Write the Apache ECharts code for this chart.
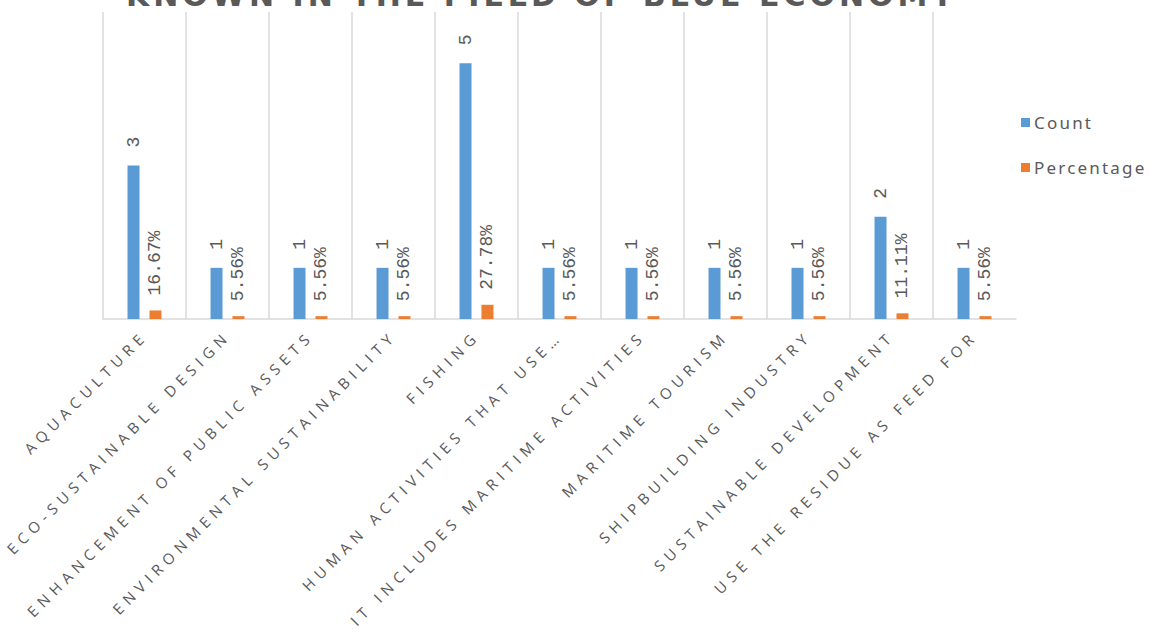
<!DOCTYPE html>
<html>
<head>
<meta charset="utf-8">
<script src="https://cdn.jsdelivr.net/npm/echarts@6/dist/echarts.min.js"></script>
<style>
html,body{margin:0;padding:0;background:#fff}
#c{width:1149px;height:632px}
#c text[style*="Open Sans"]{letter-spacing:5.5px}
#c text[style*="DejaVu Sans"]{letter-spacing:4px}
#c text[style*="Noto Sans"]{letter-spacing:2.2px}
</style>
</head>
<body>
<div id="c"></div>
<script>
const titleText = 'KNOWN IN THE FIELD OF BLUE ECONOMY';
const categories = [
  'AQUACULTURE',
  'ECO-SUSTAINABLE DESIGN',
  'ENHANCEMENT OF PUBLIC ASSETS',
  'ENVIRONMENTAL SUSTAINABILITY',
  'FISHING',
  'HUMAN ACTIVITIES THAT USE…',
  'IT INCLUDES MARITIME ACTIVITIES',
  'MARITIME TOURISM',
  'SHIPBUILDING INDUSTRY',
  'SUSTAINABLE DEVELOPMENT',
  'USE THE RESIDUE AS FEED FOR'
];
const countValues = [3, 1, 1, 1, 5, 1, 1, 1, 1, 2, 1];
const percentageValues = [0.1667, 0.0556, 0.0556, 0.0556, 0.2778, 0.0556, 0.0556, 0.0556, 0.0556, 0.1111, 0.0556];

const chart = echarts.init(document.getElementById('c'), null, { renderer: 'svg' });
const grey = '#595959';
const labelFont = 'Liberation Mono';
chart.setOption({
  animation: false,
  backgroundColor: '#fff',
  title: {
    text: titleText,
    left: 121,
    top: -25,
    textStyle: { fontFamily: 'DejaVu Sans', fontWeight: 'bold', fontSize: 30, color: grey }
  },
  legend: {
    orient: 'vertical',
    left: 1016,
    top: 109,
    itemWidth: 9,
    itemHeight: 9,
    itemGap: 28,
    icon: 'rect',
    textStyle: { fontFamily: 'Noto Sans', fontSize: 17, color: grey, padding: [0, 0, 0, -1] },
    data: ['Count', 'Percentage']
  },
  grid: { left: 103, right: 133, top: 12, bottom: 313 },
  xAxis: {
    type: 'category',
    data: categories,
    axisLine: { lineStyle: { color: '#d9d9d9', width: 1.5 } },
    axisTick: { show: false },
    splitLine: {
      show: true,
      showMaxLine: false,
      lineStyle: { color: '#d9d9d9', width: 1.5 }
    },
    axisLabel: {
      interval: 0,
      rotate: 45,
      margin: 14,
      fontFamily: 'Open Sans',
      fontSize: 15,
      color: grey
    }
  },
  yAxis: {
    type: 'value',
    min: 0,
    max: 6,
    interval: 1,
    show: false,
    splitLine: { show: false }
  },
  series: [
    {
      name: 'Count',
      type: 'bar',
      data: countValues,
      barWidth: 12,
      barGap: '83%',
      itemStyle: { color: '#5b9bd5' },
      label: {
        show: true,
        position: 'top',
        rotate: 90,
        align: 'left',
        verticalAlign: 'middle',
        distance: 18,
        fontFamily: labelFont,
        fontSize: 18,
        color: grey
      }
    },
    {
      name: 'Percentage',
      type: 'bar',
      data: percentageValues,
      barWidth: 12,
      itemStyle: { color: '#ed7d31' },
      label: {
        show: true,
        position: 'top',
        rotate: 90,
        align: 'left',
        verticalAlign: 'middle',
        distance: 15,
        fontFamily: labelFont,
        fontSize: 18,
        color: grey,
        formatter: p => (p.value * 100).toFixed(2) + '%'
      }
    }
  ]
});
</script>
</body>
</html>
